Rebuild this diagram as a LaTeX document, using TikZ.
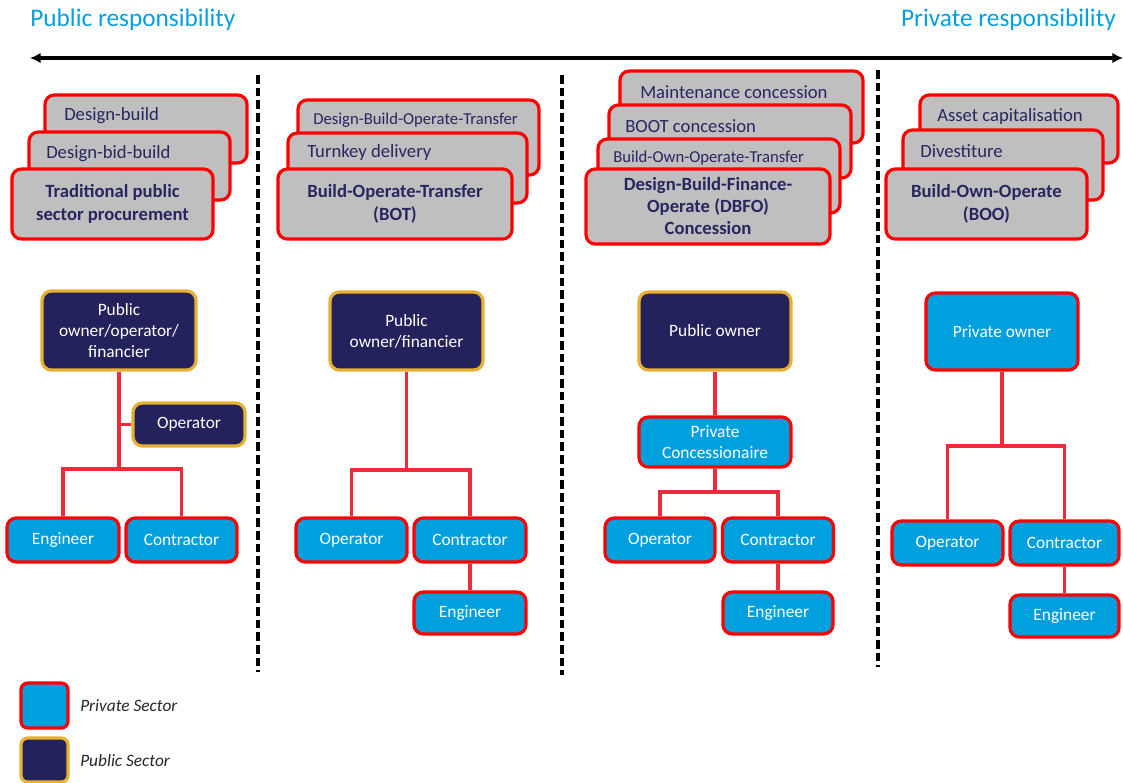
\documentclass[tikz,border=0pt]{standalone}
\usepackage{fontspec}
\setmainfont{Carlito}
\usetikzlibrary{arrows.meta}
\definecolor{navy}{RGB}{36,34,92}
\definecolor{gold}{RGB}{232,176,48}
\definecolor{cyanbox}{RGB}{0,160,223}
\definecolor{boxred}{RGB}{255,0,0}
\definecolor{linkred}{RGB}{238,43,59}
\definecolor{boxgray}{RGB}{191,191,191}
\definecolor{inkblue}{RGB}{40,38,96}
\definecolor{titleblue}{RGB}{0,160,223}
\tikzset{
  wh/.style 2 args={minimum width=#1*0.75pt, minimum height=#2*0.75pt},
  card/.style={draw=boxred, fill=boxgray, line width=2.4pt, rounded corners=7pt, inner sep=0pt},
  tag/.style={anchor=west, text=inkblue, inner sep=0pt, font=\fontsize{14}{16}\selectfont},
  smalltag/.style={tag, font=\fontsize{12.5}{15}\selectfont},
  headcard/.style={card, text=inkblue, align=center, font=\bfseries\fontsize{14}{17}\selectfont},
  orgbox/.style={line width=2.4pt, rounded corners=7pt, inner sep=0pt, text=white, align=center, font=\fontsize{13}{15.75}\selectfont},
  pub/.style={orgbox, draw=gold, fill=navy},
  priv/.style={orgbox, draw=boxred, fill=cyanbox},
  link/.style={draw=linkred, line width=2.7pt},
  divider/.style={line width=3pt, dash pattern=on 6.5pt off 3pt},
  heading/.style={text=titleblue, inner sep=0pt, font=\fontsize{19}{22}\selectfont},
  key/.style={anchor=west, inner sep=0pt, text=black!85, font=\itshape\fontsize{13}{15}\selectfont}
}
\begin{document}
\begin{tikzpicture}[x=0.75pt,y=-0.75pt]
\useasboundingbox (0,0) rectangle (1123,782);

% scale of responsibility
\node[heading, anchor=west] (pubresp) at (30,20) {Public responsibility};
\node[heading, anchor=east] (privresp) at (1116,20) {Private responsibility};
\coordinate (leftend) at (30,58);
\coordinate (rightend) at (1123,58);
\draw[line width=3pt, {Latex[length=8pt,width=8pt]}-{Latex[length=8pt,width=8pt]}] (leftend) -- (rightend);

% column dividers
\draw[divider] (258,75) -- (258,672);
\draw[divider] (562,75) -- (562,675);
\draw[divider] (878,70) -- (878,667);

% procurement cards
\node[card, wh={202}{68}] (db) at (146,129) {};
\node[tag] (dbt) at (64,115.5) {Design-build};
\node[card, wh={201}{68}] (dbb) at (129.5,166) {};
\node[tag] (dbbt) at (46,153.5) {Design-bid-build};
\node[headcard, wh={201}{70}] (trad) at (112.5,204) {Traditional public\\sector procurement};

\node[card, wh={241}{75}] (dbot) at (418.5,137.5) {};
\node[smalltag] (dbott) at (313,120) {Design-Build-Operate-Transfer};
\node[card, wh={239}{70}] (turn) at (407.5,168) {};
\node[tag] (turnt) at (307,152.5) {Turnkey delivery};
\node[headcard, wh={234}{70}] (bot) at (395,204) {Build-Operate-Transfer\\(BOT)};

\node[card, wh={243}{72}] (maint) at (741.5,107) {};
\node[tag] (maintt) at (640,92.5) {Maintenance concession};
\node[card, wh={242}{73}] (bootc) at (730,141.5) {};
\node[tag] (bootct) at (625,126.5) {BOOT concession};
\node[card, wh={242}{74}] (boot) at (719,176) {};
\node[smalltag] (boott) at (613,158) {Build-Own-Operate-Transfer};
\node[headcard, wh={244}{75}, font=\bfseries\fontsize{14}{16.5}\selectfont] (dbfo) at (708,206.5) {Design-Build-Finance-\\Operate (DBFO)\\Concession};

\node[card, wh={198}{68}] (asset) at (1019,129) {};
\node[tag] (assett) at (937,116.5) {Asset capitalisation};
\node[card, wh={200}{70}] (dives) at (1003,165) {};
\node[tag] (divest) at (920,151.5) {Divestiture};
\node[headcard, wh={201}{70}] (boo) at (986.5,204) {Build-Own-Operate\\(BOO)};

% traditional
\node[pub, wh={154}{79}] (po1) at (119,330.5) {Public\\owner/operator/\\financier};
\node[pub, wh={112}{43}] (op1) at (189,424.5) {Operator};
\node[priv, wh={112}{44}] (eng1) at (63,540) {Engineer};
\node[priv, wh={111}{44}] (con1) at (181.5,540) {Contractor};
\coordinate (bar1) at (119,469);
\draw[link] (po1.south) -- (bar1);
\draw[link] (op1.west) -- (op1.west -| po1.south);
\draw[link] (eng1.north) |- (bar1) -| (con1.north);

% BOT
\node[pub, wh={153}{78}] (po2) at (406.5,331) {Public\\owner/financier};
\node[priv, wh={111}{44}] (op2) at (351.5,540) {Operator};
\node[priv, wh={112}{44}] (con2) at (470,540) {Contractor};
\node[priv, wh={112}{42}] (eng2) at (470,613) {Engineer};
\coordinate (bar2) at (406.5,470);
\draw[link] (po2.south) -- (bar2);
\draw[link] (op2.north) |- (bar2) -| (con2.north);
\draw[link] (con2.south) -- (eng2.north);

% DBFO
\node[pub, wh={152}{78}] (po3) at (715,331) {Public owner};
\node[priv, wh={152}{50}] (pc3) at (715,442) {Private\\Concessionaire};
\node[priv, wh={110}{44}] (op3) at (660,540) {Operator};
\node[priv, wh={111}{44}] (con3) at (778,540) {Contractor};
\node[priv, wh={110}{42}] (eng3) at (778,613) {Engineer};
\coordinate (bar3) at (715,492);
\draw[link] (po3.south) -- (pc3.north);
\draw[link] (pc3.south) -- (bar3);
\draw[link] (op3.north) |- (bar3) -| (con3.north);
\draw[link] (con3.south) -- (eng3.north);

% BOO
\node[priv, wh={152}{77}] (po4) at (1002,331.5) {Private owner};
\node[priv, wh={111}{44}] (op4) at (947.5,543) {Operator};
\node[priv, wh={109}{44}] (con4) at (1064.5,543) {Contractor};
\node[priv, wh={109}{42}] (eng4) at (1064.5,616) {Engineer};
\coordinate (bar4) at (1002,446);
\draw[link] (po4.south) -- (bar4);
\draw[link] (op4.north) |- (bar4) -| (con4.north);
\draw[link] (con4.south) -- (eng4.north);

% legend
\node[priv, wh={47}{45}, rounded corners=5pt] (keypriv) at (44.5,705.5) {};
\node[key] (keyprivt) at (80,706) {Private Sector};
\node[pub, wh={47}{44}, rounded corners=5pt] (keypub) at (44.5,760) {};
\node[key] (keypubt) at (80,761) {Public Sector};
\end{tikzpicture}
\end{document}
